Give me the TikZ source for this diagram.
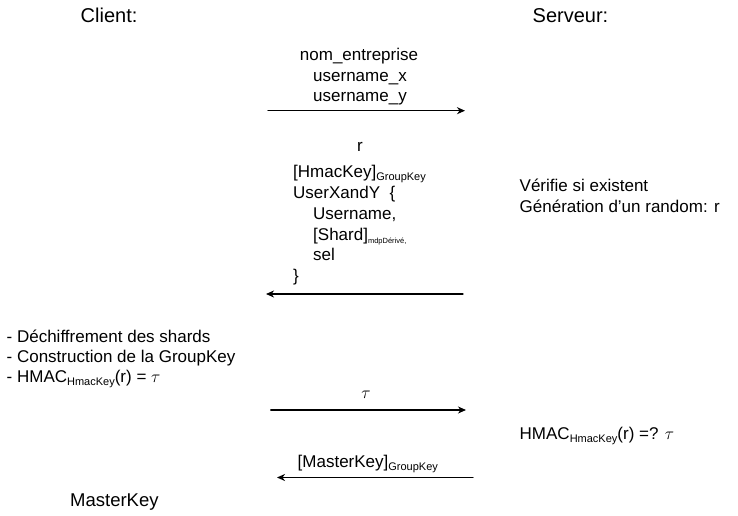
\documentclass[tikz,border=0pt]{standalone}
\usepackage{fontspec}
\setmainfont{Liberation Sans}
\usepackage{tkz-euclide}
\usetikzlibrary{arrows.meta}

\newcommand{\indice}[2][11]{\raisebox{-3.3pt}{\fontsize{#1}{#1}\selectfont #2}}
\tikzset{
  msg/.style={line width=1.2pt,-{Stealth[length=8pt,width=7pt,inset=2.5pt]}},
  txt/.style={anchor=base west,inner sep=0pt,font=\fontsize{17}{20}\selectfont},
  ctxt/.style={txt,anchor=base},
  titre/.style={txt,font=\fontsize{20}{24}\selectfont},
}

\begin{document}
\begin{tikzpicture}[x=1pt,y=-1pt]
\useasboundingbox (0,0) rectangle (738,516);
%\tkzInit[xmax=738,ymax=516]

\tkzDefPoint(268,110.7){C1}
\tkzDefPoint(465,110.7){S1}
\tkzDefPoint(463,294){S2}
\tkzDefPoint(266,294){C2}
\tkzDefPoint(270.7,410){C3}
\tkzDefPoint(466,410){S3}
\tkzDefPoint(473,477.5){S4}
\tkzDefPoint(277,477.5){C4}

\tkzDrawSegment[msg](C1,S1)
\tkzDrawSegment[msg](S2,C2)
\tkzDrawSegment[msg](C3,S3)
\tkzDrawSegment[msg](S4,C4)

\node[titre] (client) at (80.5,22.7) {Client:};
\node[titre] (serveur) at (532.5,22.7) {Serveur:};

\node[ctxt] (nom) at (359,61) {nom\_entreprise};
\node[ctxt] (userx) at (360,82) {username\_x};
\node[ctxt] (usery) at (360,102) {username\_y};

\node[ctxt] (r) at (360,151) {r};
\node[txt] (hmackey) at (293,177) {[HmacKey]\indice{GroupKey}};
\node[txt] (userxy) at (293,198.5) {UserXandY\ \ \{};
\node[txt] (username) at (313,219.5) {Username,};
\node[txt] (shard) at (313,240.5) {[Shard]\indice[7.5]{mdpDérivé,}};
\node[txt] (sel) at (313,260.5) {sel};
\node[txt] (accolade) at (293,281) {\}};

\node[txt] (verif) at (519.5,191) {Vérifie si existent};
\node[txt] (random) at (519.5,212) {Génération d’un random: r};

\node[txt] (dechiff) at (6.5,342) {- Déchiffrement des shards};
\node[txt] (constr) at (6.5,362) {- Construction de la GroupKey};
\node[txt] (calcul) at (6.5,382) {- HMAC\indice{HmacKey}(r) = $\tau$};

\node[ctxt] (tau) at (366,398.5) {$\tau$};
\node[txt] (compare) at (519.5,439) {HMAC\indice{HmacKey}(r) =? $\tau$};

\node[txt] (mkchiffre) at (297.5,467.5) {[MasterKey]\indice{GroupKey}};
\node[txt,font=\fontsize{18.5}{22}\selectfont] (masterkey) at (70,506.7) {MasterKey};

\end{tikzpicture}
\end{document}
